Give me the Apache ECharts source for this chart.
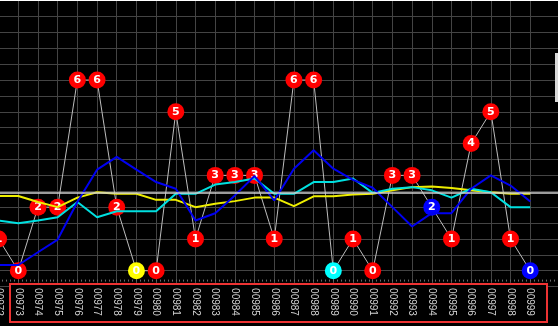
<!DOCTYPE html>
<html>
<head>
<meta charset="utf-8">
<script src="https://cdn.jsdelivr.net/npm/echarts@6/dist/echarts.min.js"></script>
<style>
  html, body { margin: 0; padding: 0; background: #fff; overflow: hidden; }
  #chart { position: absolute; left: 0; top: 1px; width: 558px; height: 325px; background: #000; }
</style>
</head>
<body>
<div id="chart"></div>
<script>
// Issue numbers along the x axis
const issues = ['00972','00973','00974','00975','00976','00977','00978','00979','00980','00981',
  '00982','00983','00984','00985','00986','00987','00988','00989','00990','00991',
  '00992','00993','00994','00995','00996','00997','00998','00999'];

// Hit count per issue (numbers shown in the circles)
const hits = [1,0,2,2,6,6,2,0,0,5,1,3,3,3,1,6,6,0,1,0,3,3,2,1,4,5,1,0];

// Which trend each hit belongs to: r = plain, y / c / b = matched line
const hitGroup = ['r','r','r','r','r','r','r','y','r','r','r','r','r','r','r','r','r','c','r','r',
  'r','r','b','r','r','r','r','b'];

// Trend lines
const yellowTrend = [2.35,2.35,2.16,2.00,2.30,2.47,2.42,2.42,2.23,2.23,2.00,2.11,2.19,2.30,2.30,2.03,
  2.34,2.34,2.40,2.42,2.53,2.63,2.65,2.60,2.53,2.47,2.42,2.42];
const cyanTrend = [1.58,1.49,1.58,1.68,2.16,1.68,1.87,1.87,1.87,2.42,2.42,2.71,2.79,2.90,2.42,2.42,
  2.79,2.79,2.90,2.45,2.58,2.63,2.53,2.30,2.58,2.47,2.00,2.00];
const blueTrend = [0.18,0.18,0.58,0.98,2.16,3.18,3.58,3.18,2.79,2.58,1.58,1.81,2.37,2.98,2.21,3.21,
  3.79,3.21,2.86,2.61,2.00,1.39,1.81,1.81,2.58,3.00,2.68,2.18];

// Reference level across the plot
const baseline = 2.45;

const groupColor = { r: '#ff0000', y: '#ffff00', c: '#00ffff', b: '#0000ff' };
// two blank slots keep the plot area running past the last issue
const axisCats = issues.concat(['', ' ']);

const chart = echarts.init(document.getElementById('chart'), null, { renderer: 'canvas' });

const gridColor = '#444444';

chart.setOption({
  animation: false,
  backgroundColor: '#000',
  grid: { left: -1.4, top: -0.4, width: 571, height: 286, containLabel: false, outerBoundsMode: 'none' },
  xAxis: [
    {
      type: 'category', data: axisCats, boundaryGap: false, position: 'bottom',
      axisLine: { show: false }, axisTick: { show: false }, axisLabel: { show: false },
      splitLine: { show: true, interval: (i) => i < issues.length, lineStyle: { color: gridColor, width: 1 } }
    },
    {
      type: 'category', data: axisCats, boundaryGap: false, position: 'bottom', z: 10,
      axisLine: { show: false }, axisTick: { show: false }, splitLine: { show: false },
      axisLabel: { show: true, interval: 0, rotate: -90, margin: 1.5, color: '#d0d0d0',
        fontFamily: 'Liberation Sans', fontSize: 10 }
    },
    {
      // fine tick ruler just above the label box
      type: 'value', min: 0, max: 29, interval: 1, position: 'bottom', offset: -5,
      axisLine: { show: false }, axisLabel: { show: false }, splitLine: { show: false },
      axisTick: { show: true, inside: true, length: 2, lineStyle: { color: '#6a6a6a' } },
      minorTick: { show: true, splitNumber: 5, length: 2, lineStyle: { color: '#6a6a6a' } }
    }
  ],
  yAxis: {
    type: 'value', min: -0.5, max: 8.5, interval: 0.5,
    axisLine: { show: false }, axisTick: { show: false }, axisLabel: { show: false },
    splitLine: { show: true, lineStyle: { color: gridColor, width: 1 } }
  },
  graphic: [
    { type: 'rect', z: 5, shape: { x: 10, y: 283, width: 537, height: 38 },
      style: { fill: '#000', stroke: '#ee3333', lineWidth: 2 } },
    { type: 'rect', z: 5, shape: { x: 555, y: 52, width: 10, height: 49 },
      style: { fill: '#d8d8d8' } }
  ],
  series: [
    {
      name: 'hits', type: 'line', z: 2,
      data: hits.map((v, i) => ({ value: v, itemStyle: { color: groupColor[hitGroup[i]] } })),
      lineStyle: { color: '#bdbdbd', width: 1 },
      symbol: 'circle', symbolSize: 17, showAllSymbol: true,
      label: { show: true, position: 'inside', color: '#fff', fontWeight: 'bold', fontSize: 11,
        fontFamily: 'DejaVu Sans' },
      markLine: {
        silent: true, symbol: 'none', label: { show: false },
        lineStyle: { color: '#d0d0d0', width: 1.5, type: 'solid' },
        data: [{ yAxis: baseline }]
      }
    },
    { name: 'yellow', type: 'line', z: 3, data: yellowTrend, symbol: 'none',
      lineStyle: { color: '#eeee00', width: 2 } },
    { name: 'cyan', type: 'line', z: 3, data: cyanTrend, symbol: 'none',
      lineStyle: { color: '#00e0e0', width: 2 } },
    { name: 'blue', type: 'line', z: 3, data: blueTrend, symbol: 'none',
      lineStyle: { color: '#0000f0', width: 2 } }
  ]
});
</script>
</body>
</html>
